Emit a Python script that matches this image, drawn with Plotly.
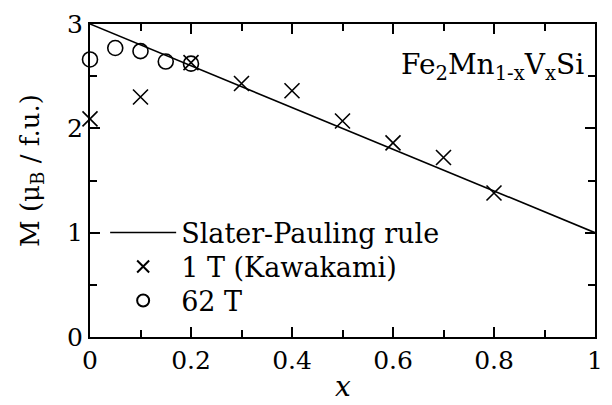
import plotly.graph_objects as go

# Data
sp_x = [0, 1]
sp_y = [3, 1]

kaw_x = [0.0, 0.1, 0.2, 0.3, 0.4, 0.5, 0.6, 0.7, 0.8]
kaw_y = [2.09, 2.30, 2.63, 2.43, 2.36, 2.07, 1.86, 1.72, 1.38]

hf_x = [0.0, 0.05, 0.1, 0.15, 0.2]
hf_y = [2.66, 2.77, 2.74, 2.64, 2.62]

x_ticks = [0, 0.2, 0.4, 0.6, 0.8, 1]
x_ticklabels = ["0", "0.2", "0.4", "0.6", "0.8", "1"]
y_ticks = [0, 1, 2, 3]
y_ticklabels = ["0", "1", "2", "3"]

FONT = "DejaVu Serif"

fig = go.Figure()
fig.add_trace(go.Scatter(x=sp_x, y=sp_y, mode="lines", name="Slater-Pauling rule",
                         line=dict(color="black", width=1.6), legend="legend"))
fig.add_trace(go.Scatter(x=kaw_x, y=kaw_y, mode="markers", name="1 T (Kawakami)",
                         marker=dict(symbol="x-thin-open", size=15, color="black",
                                     line=dict(color="black", width=1.6)),
                         cliponaxis=False, legend="legend2"))
fig.add_trace(go.Scatter(x=hf_x, y=hf_y, mode="markers", name="62 T",
                         marker=dict(symbol="circle-open", size=15, color="black",
                                     line=dict(color="black", width=1.6)),
                         cliponaxis=False, legend="legend3"))

axis_common = dict(
    showline=True, linecolor="black", linewidth=2, mirror="ticks",
    ticks="inside", ticklen=10, tickwidth=1.5, tickcolor="black",
    showgrid=False, zeroline=False,
    tickfont=dict(family=FONT, size=25, color="black"),
)

leg_common = dict(font=dict(family=FONT, size=27, color="black"),
                  bgcolor="rgba(0,0,0,0)", borderwidth=0,
                  xanchor="left", yanchor="middle",
                  xref="paper", yref="paper")

fig.update_layout(
    width=612, height=405,
    margin=dict(l=90, r=9, t=24, b=68),
    paper_bgcolor="white", plot_bgcolor="white",
    font=dict(family=FONT, color="black"),
    xaxis=dict(range=[0, 1], tickvals=x_ticks, ticktext=x_ticklabels,
               minor=dict(tickvals=[0.1, 0.3, 0.5, 0.7, 0.9], ticks="inside", ticklen=7,
                          tickwidth=1.5, tickcolor="black"),
               **axis_common),
    yaxis=dict(range=[0, 3], tickvals=y_ticks, ticktext=y_ticklabels,
               minor=dict(tickvals=[0.5, 1.5, 2.5], ticks="inside", ticklen=7,
                          tickwidth=1.5, tickcolor="black"),
               **axis_common),
    legend=dict(x=0.030, y=(337 - 233) / 313, itemwidth=66, itemsizing="trace", **leg_common),
    legend2=dict(x=0.030, y=(337 - 267) / 313, itemwidth=66, itemsizing="constant", **leg_common),
    legend3=dict(x=0.030, y=(337 - 301) / 313, itemwidth=66, itemsizing="constant", **leg_common),
    showlegend=True,
)

fig.add_annotation(text="M (μ<sub>B</sub> / f.u.)", xref="paper", yref="paper",
                   x=(31 - 90) / 513, y=(337 - 170) / 313, textangle=-90,
                   showarrow=False, xanchor="center", yanchor="middle",
                   font=dict(family=FONT, size=26, color="black"))
fig.add_annotation(text="<i>x</i>", xref="paper", yref="paper",
                   x=(347 - 90) / 513, y=(337 - 386) / 313,
                   showarrow=False, xanchor="center", yanchor="middle",
                   font=dict(family=FONT, size=28, color="black"))
fig.add_annotation(text="Fe<sub>2</sub>Mn<sub>1-x</sub>V<sub>x</sub>Si", xref="paper", yref="paper",
                   x=(594 - 90) / 513, y=(337 - 66) / 313,
                   showarrow=False, xanchor="right", yanchor="middle",
                   font=dict(family=FONT, size=28, color="black"))

fig.write_html("out.html")
